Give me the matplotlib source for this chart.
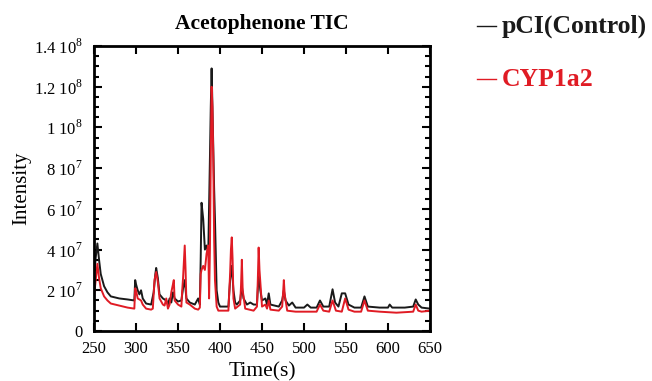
import numpy as np
import matplotlib
matplotlib.use('Agg')
import matplotlib.pyplot as plt
from matplotlib.ticker import MultipleLocator, FuncFormatter
from matplotlib.lines import Line2D

plt.rcParams['font.family'] = ['Liberation Serif', 'DejaVu Serif']
plt.rcParams['mathtext.fontset'] = 'custom'
plt.rcParams['mathtext.rm'] = 'Liberation Serif'

# time (s) and intensity (x1e7)
t_ctrl = [250, 252, 254, 256, 258, 262, 266, 270, 280, 290, 298, 299, 300, 302, 304, 306, 308,
          312, 318, 321, 323, 324, 326, 328, 332, 336, 338, 340, 342, 344, 346, 350, 354,
          356, 358, 360, 364, 370, 374, 376, 377, 378, 380, 382, 384, 386, 388, 389, 390,
          391, 392, 393, 394, 396, 398, 400, 410, 412, 414, 416, 418, 420, 424, 426, 428,
          432, 436, 440, 444, 446, 448, 450, 454, 456, 458, 460, 470, 474, 476, 478, 482,
          486, 490, 500, 504, 508, 515, 519, 523, 530, 534, 537, 541, 545, 549, 553, 560,
          568, 572, 576, 590, 600, 602, 605, 620, 630, 633, 636, 640, 650]
i_ctrl = [2.6, 3.6, 4.3, 3.5, 2.8, 2.2, 1.9, 1.7, 1.6, 1.55, 1.5, 2.5, 2.3, 2.0, 1.8, 2.0, 1.6,
          1.35, 1.3, 1.9, 2.8, 3.1, 2.6, 1.8, 1.6, 1.5, 1.3, 1.6, 1.4, 1.9, 1.6, 1.45, 1.5,
          2.1, 2.5, 1.6, 1.4, 1.3, 1.6, 1.3, 3.5, 6.3, 5.5, 4.0, 4.2, 3.8, 8.5, 11.0, 12.9,
          11.0, 9.0, 7.0, 5.5, 2.0, 1.4, 1.2, 1.2, 2.5, 3.2, 2.0, 1.4, 1.3, 1.5, 2.2, 1.6,
          1.3, 1.4, 1.3, 1.3, 2.8, 2.0, 1.5, 1.6, 1.3, 1.85, 1.3, 1.2, 1.5, 2.0, 1.5, 1.25,
          1.4, 1.15, 1.15, 1.3, 1.15, 1.15, 1.5, 1.2, 1.2, 2.05, 1.4, 1.2, 1.85, 1.85, 1.3, 1.15,
          1.15, 1.7, 1.2, 1.15, 1.15, 1.3, 1.15, 1.15, 1.2, 1.55, 1.3, 1.15, 1.1]

t_cyp = [250, 252, 254, 256, 258, 262, 266, 270, 280, 290, 298, 299, 300, 302, 306, 308, 312,
         318, 320, 322, 324, 326, 328, 332, 334, 336, 338, 340, 342, 344, 345, 346, 350,
         354, 355, 356, 358, 359, 360, 364, 370, 374, 376, 377, 378, 380, 382, 384, 386,
         387, 388, 389, 390, 391, 392, 393, 394, 396, 398, 410, 412, 413, 414, 415, 416,
         418, 424, 425, 426, 427, 430, 440, 444, 445, 446, 447, 450, 454, 456, 458, 460,
         470, 474, 475, 476, 477, 480, 490, 500, 515, 519, 523, 530, 534, 538, 545, 549,
         553, 560, 568, 572, 576, 590, 610, 630, 633, 636, 640, 650]
i_cyp = [1.7, 2.5, 3.3, 2.6, 2.1, 1.7, 1.5, 1.35, 1.25, 1.15, 1.1, 2.1, 2.0, 1.6, 1.5, 1.3, 1.1,
         1.05, 1.1, 2.5, 2.9, 2.4, 1.6, 1.3, 1.25, 1.6, 1.1, 1.3, 1.9, 2.3, 2.5, 1.5, 1.3,
         1.2, 2.0, 2.6, 4.2, 3.0, 1.4, 1.3, 1.1, 1.05, 1.15, 2.8, 3.0, 3.2, 3.0, 3.8, 4.2,
         1.6, 4.0, 8.5, 12.0, 11.0, 8.5, 4.5, 2.5, 1.2, 1.0, 1.0, 2.8, 4.0, 4.6, 3.5, 1.6,
         1.1, 1.3, 2.2, 3.5, 2.0, 1.1, 1.0, 1.2, 2.5, 4.1, 3.0, 1.2, 1.3, 1.1, 1.5, 1.05,
         1.0, 1.2, 1.8, 2.5, 1.8, 1.0, 0.95, 0.95, 0.95, 1.3, 1.0, 0.95, 1.5, 1.0, 0.95, 1.6,
         1.05, 0.95, 0.95, 1.5, 1.0, 0.95, 0.9, 0.95, 1.3, 1.0, 0.95, 1.0]

y_ticks = [0, 2e7, 4e7, 6e7, 8e7, 1e8, 1.2e8, 1.4e8]


def sci_fmt(v, pos):
    if v == 0:
        return '0'
    e = int(np.floor(np.log10(v) + 1e-9))
    m = v / 10**e
    ms = ('%.1f' % m).rstrip('0').rstrip('.')
    return ms + ' 10$^{%d}$' % e


fig = plt.figure(figsize=(6.52, 3.81), dpi=100)
ax = fig.add_axes([0.1442, 0.1312, 0.5153, 0.748])

ax.plot(t_ctrl, np.array(i_ctrl) * 1e7, color='#1a1a1a', lw=1.4)
ax.plot(t_cyp, np.array(i_cyp) * 1e7, color='#e01b24', lw=1.4)

ax.set_xlim(250, 650)
ax.set_ylim(0, 1.4e8)
ax.set_xticks(range(250, 651, 50))
ax.set_yticks(y_ticks)
ax.yaxis.set_minor_locator(MultipleLocator(5e6))
ax.yaxis.set_major_formatter(FuncFormatter(sci_fmt))
ax.tick_params(which='both', direction='in', top=True, right=True, labelsize=12, width=1.5)
ax.tick_params(which='major', length=6)
ax.tick_params(which='minor', length=3.5)
ax.tick_params(axis='x', pad=7)
ax.tick_params(axis='y', pad=8)
for s in ax.spines.values():
    s.set_linewidth(2)

ax.set_title('Acetophenone TIC', fontsize=15.5, fontweight='bold', pad=12)
ax.set_xlabel('Time(s)', fontsize=15.5, labelpad=4)
ax.set_ylabel('Intensity', fontsize=15, labelpad=2)

# legend drawn as text to the right
fig.add_artist(Line2D([477 / 652, 496 / 652], [1 - 26 / 381, 1 - 26 / 381], color='#1a1a1a', lw=1.0))
fig.text(502 / 652, 1 - 26 / 381, 'pCI(Control)', fontsize=18.5, fontweight='bold',
         color='#1a1a1a', va='center', ha='left')
fig.add_artist(Line2D([477 / 652, 496 / 652], [1 - 79 / 381, 1 - 79 / 381], color='#e01b24', lw=1.0))
fig.text(502 / 652, 1 - 79 / 381, 'CYP1a2', fontsize=18.5, fontweight='bold',
         color='#e01b24', va='center', ha='left')

fig.savefig('out.png', dpi=100)
